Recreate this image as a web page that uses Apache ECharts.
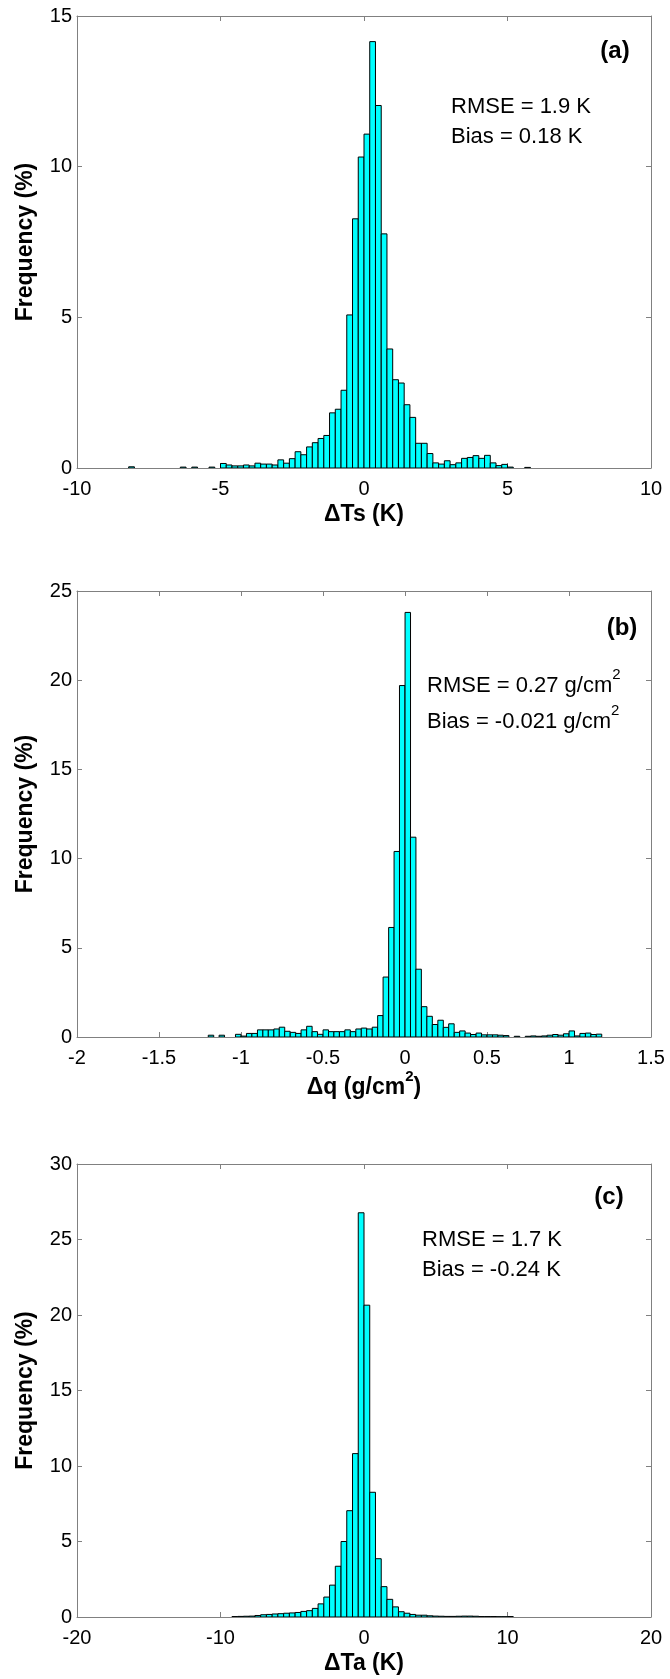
<!DOCTYPE html>
<html><head><meta charset="utf-8">
<script src="https://cdn.jsdelivr.net/npm/echarts@6/dist/echarts.min.js"></script>
<style>html,body{margin:0;padding:0;background:#fff}#c{width:670px;height:1679px}</style>
</head><body><div id="c"></div>
<script>
// ---- Panel (a): ΔTs histogram ----
const binWidthA = 0.2;
const centersA = [-8.1,-6.3,-5.9,-5.3,-4.9,-4.7,-4.5,-4.3,-4.1,-3.9,-3.7,-3.5,-3.3,-3.1,-2.9,-2.7,-2.5,-2.3,-2.1,-1.9,-1.7,-1.5,-1.3,-1.1,-0.9,-0.7,-0.5,-0.3,-0.1,0.1,0.3,0.5,0.7,0.9,1.1,1.3,1.5,1.7,1.9,2.1,2.3,2.5,2.7,2.9,3.1,3.3,3.5,3.7,3.9,4.1,4.3,4.5,4.7,4.9,5.1,5.7];
const freqA = [0.04,0.03,0.03,0.03,0.15,0.10,0.07,0.07,0.10,0.07,0.16,0.13,0.13,0.10,0.27,0.16,0.31,0.54,0.44,0.70,0.84,0.98,1.08,1.83,1.95,2.58,5.08,8.27,10.32,11.08,14.15,12.03,7.77,3.95,2.93,2.82,2.10,1.68,0.82,0.82,0.48,0.17,0.13,0.24,0.11,0.17,0.32,0.35,0.41,0.32,0.42,0.17,0.08,0.12,0.03,0.02];
const xTicksA = {min: -10, max: 10, interval: 5};
const yTicksA = {min: 0, max: 15, interval: 5};

// ---- Panel (b): Δq histogram ----
const binWidthB = 1 / 30;
const centersB = [-1.183,-1.117,-1.017,-0.983,-0.95,-0.917,-0.883,-0.85,-0.817,-0.783,-0.75,-0.717,-0.683,-0.65,-0.617,-0.583,-0.55,-0.517,-0.483,-0.45,-0.417,-0.383,-0.35,-0.317,-0.283,-0.25,-0.217,-0.183,-0.15,-0.117,-0.083,-0.05,-0.017,0.017,0.05,0.083,0.117,0.15,0.183,0.217,0.25,0.283,0.317,0.35,0.383,0.417,0.45,0.483,0.517,0.55,0.583,0.617,0.683,0.75,0.783,0.817,0.85,0.883,0.917,0.95,0.983,1.017,1.05,1.083,1.117,1.15,1.183];
const freqB = [0.1,0.1,0.15,0.05,0.2,0.2,0.4,0.4,0.4,0.45,0.55,0.32,0.26,0.2,0.4,0.6,0.3,0.15,0.4,0.3,0.3,0.3,0.4,0.3,0.45,0.5,0.45,0.55,1.2,3.36,6.14,10.4,19.7,23.8,11.2,3.8,1.7,1.16,0.7,0.94,0.54,0.74,0.26,0.34,0.22,0.14,0.22,0.12,0.12,0.12,0.1,0.08,0.04,0.04,0.06,0.04,0.06,0.1,0.14,0.1,0.18,0.34,0.06,0.2,0.22,0.14,0.16];
const xTicksB = {min: -2, max: 1.5, interval: 0.5};
const yTicksB = {min: 0, max: 25, interval: 5};

// ---- Panel (c): ΔTa histogram ----
const binWidthC = 0.4;
const centersC = [-9.0,-8.6,-8.2,-7.8,-7.4,-7.0,-6.6,-6.2,-5.8,-5.4,-5.0,-4.6,-4.2,-3.8,-3.4,-3.0,-2.6,-2.2,-1.8,-1.4,-1.0,-0.6,-0.2,0.2,0.6,1.0,1.4,1.8,2.2,2.6,3.0,3.4,3.8,4.2,4.6,5.0,5.4,5.8,6.2,6.6,7.0,7.4,7.8,8.2,8.6,9.0,9.4,9.8,10.2];
const freqC = [0.03,0.04,0.05,0.06,0.10,0.15,0.17,0.20,0.22,0.25,0.27,0.30,0.37,0.42,0.57,0.87,1.32,2.11,3.36,5.0,7.04,10.82,26.77,20.65,8.26,3.86,2.01,1.17,0.67,0.35,0.25,0.17,0.12,0.12,0.08,0.06,0.05,0.04,0.04,0.05,0.06,0.06,0.05,0.03,0.03,0.03,0.02,0.02,0.03];
const xTicksC = {min: -20, max: 20, interval: 10};
const yTicksC = {min: 0, max: 30, interval: 5};

// ---- Texts ----
const panelTags = ['(a)', '(b)', '(c)'];
const xNames = ['ΔTs (K)', '{n|Δq (g/cm}{s|2}{n|)}', 'ΔTa (K)'];
const yName = 'Frequency (%)';
const statsA = ['RMSE = 1.9 K', 'Bias = 0.18 K'];
const statsB = ['{n|RMSE = 0.27 g/cm}{s|2}', '{n|Bias = -0.021 g/cm}{s|2}'];
const statsC = ['RMSE = 1.7 K', 'Bias = -0.24 K'];

const FONT = '"Liberation Sans", Arial, Helvetica, sans-serif';
const AXIS_COLOR = '#808080';
const grids = [
  {left: 77, top: 16, width: 574, height: 452},
  {left: 77, top: 591, width: 574, height: 446},
  {left: 77, top: 1164, width: 574, height: 453}
];
const supRich = {
  n: {fontSize: 22, fontFamily: FONT, color: '#000', lineHeight: 30, verticalAlign: 'bottom'},
  s: {fontSize: 15, fontFamily: FONT, color: '#000', lineHeight: 15, verticalAlign: 'top'}
};
const supRichBold = {
  n: {fontSize: 23, fontWeight: 'bold', fontFamily: FONT, color: '#000', lineHeight: 30, verticalAlign: 'bottom'},
  s: {fontSize: 15, fontWeight: 'bold', fontFamily: FONT, color: '#000', lineHeight: 15, verticalAlign: 'top'}
};

const panels = [
  {centers: centersA, freq: freqA, bw: binWidthA, xt: xTicksA, yt: yTicksA},
  {centers: centersB, freq: freqB, bw: binWidthB, xt: xTicksB, yt: yTicksB},
  {centers: centersC, freq: freqC, bw: binWidthC, xt: xTicksC, yt: yTicksC}
];

const xAxis = [], yAxis = [], series = [];
panels.forEach((p, i) => {
  const common = {
    type: 'value', gridIndex: i, splitLine: {show: false},
    axisLine: {show: true, onZero: false, lineStyle: {color: AXIS_COLOR, width: 1}},
    axisTick: {show: true, inside: true, length: 5, lineStyle: {color: AXIS_COLOR}}
  };
  xAxis.push(Object.assign({}, common, {
    position: 'bottom', min: p.xt.min, max: p.xt.max, interval: p.xt.interval,
    axisLabel: {show: true, color: '#000', fontSize: 20, fontFamily: FONT, margin: 11},
    name: xNames[i], nameLocation: 'middle', nameGap: i === 1 ? 31 : 35,
    nameTextStyle: i === 1 ? {rich: supRichBold} : {fontSize: 23, fontWeight: 'bold', fontFamily: FONT, color: '#000'}
  }));
  xAxis.push(Object.assign({}, common, {
    position: 'top', min: p.xt.min, max: p.xt.max, interval: p.xt.interval,
    axisLabel: {show: false}
  }));
  yAxis.push(Object.assign({}, common, {
    position: 'left', min: p.yt.min, max: p.yt.max, interval: p.yt.interval,
    axisLabel: {show: true, color: '#000', fontSize: 20, fontFamily: FONT, margin: 5},
    name: yName, nameLocation: 'middle', nameGap: 40,
    nameTextStyle: {fontSize: 23, fontWeight: 'bold', fontFamily: FONT, color: '#000'}
  }));
  yAxis.push(Object.assign({}, common, {
    position: 'right', min: p.yt.min, max: p.yt.max, interval: p.yt.interval,
    axisLabel: {show: false}
  }));
  const bw = p.bw;
  series.push({
    type: 'custom', xAxisIndex: 2 * i, yAxisIndex: 2 * i, clip: true,
    data: p.centers.map((c, k) => [c, p.freq[k]]),
    renderItem: function (params, api) {
      const c = api.value(0), v = api.value(1);
      const p1 = api.coord([c - bw / 2, v]);
      const p2 = api.coord([c + bw / 2, 0]);
      return {
        type: 'rect',
        shape: {x: p1[0], y: p1[1], width: p2[0] - p1[0], height: p2[1] - p1[1]},
        style: {fill: '#00ffff', stroke: '#000', lineWidth: 1}
      };
    }
  });
});

const tagPos = [[615, 51], [622, 628], [609, 1197]];
const statPos = [[451, 107, 137], [427, 682, 718], [422, 1240, 1270]];
const statTexts = [statsA, statsB, statsC];
const graphic = [];
panelTags.forEach((t, i) => {
  graphic.push({type: 'text', x: tagPos[i][0], y: tagPos[i][1],
    style: {text: t, font: 'bold 24px ' + FONT, fill: '#000', textAlign: 'center', textVerticalAlign: 'middle'}});
  statTexts[i].forEach((s, j) => {
    const style = {text: s, fill: '#000', textAlign: 'left', textVerticalAlign: 'middle'};
    if (i === 1) { style.rich = supRich; } else { style.font = '22px ' + FONT; }
    graphic.push({type: 'text', x: statPos[i][0], y: statPos[i][1 + j], style});
  });
});

const chart = echarts.init(document.getElementById('c'), null, {renderer: 'canvas', width: 670, height: 1679});
chart.setOption({
  animation: false,
  backgroundColor: '#fff',
  grid: grids,
  xAxis, yAxis, series, graphic
});
</script></body></html>
